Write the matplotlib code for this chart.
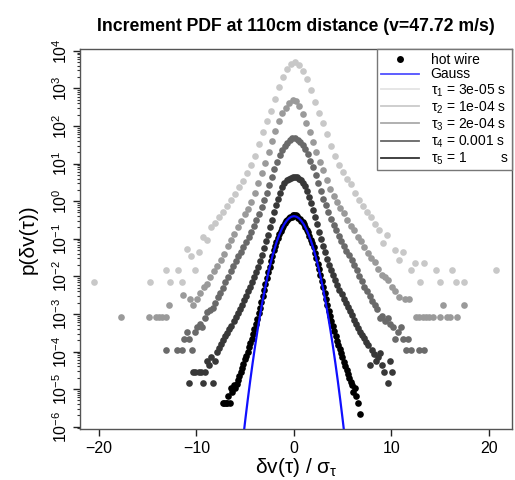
import numpy as np
import matplotlib
matplotlib.use("Agg")
import matplotlib.pyplot as plt
from matplotlib.lines import Line2D
from matplotlib.ticker import LogLocator, FixedLocator, LogFormatterSciNotation

plt.rcParams['font.family'] = ['Liberation Sans', 'DejaVu Sans']
plt.rcParams['mathtext.fontset'] = 'custom'
plt.rcParams['mathtext.rm'] = 'Liberation Sans'
plt.rcParams['mathtext.it'] = 'Liberation Sans'
plt.rcParams['mathtext.bf'] = 'Liberation Sans:bold'

nan = np.nan

title = "Increment PDF at 110cm distance (v=47.72 m/s)"
xlabel = r"δv(τ) / σ$_\tau$"
ylabel = "p(δv(τ))"
xticks = [-20, -10, 0, 10, 20]
yticks = [1e-6, 1e-5, 1e-4, 1e-3, 1e-2, 1e-1, 1e0, 1e1, 1e2, 1e3, 1e4]

legend_labels = ["hot wire", "Gauss",
                 r"τ$_1$ = 3e-05 s", r"τ$_2$ = 1e-04 s", r"τ$_3$ = 2e-04 s",
                 r"τ$_4$ = 0.001 s", r"τ$_5$ = 1         s"]
tau_colors = ["#c8c8c8", "#9a9a9a", "#6a6a6a", "#383838", "#000000"]
tau_legend_colors = ["#e4e4e4", "#cacaca", "#aaaaaa", "#666666", "#333333"]

# histogram bins: first bin centre and bin width for every lag
tau_x0 = [-20.5, -17.7, -13.1, -10.8, -7.3]
tau_dx = [0.412, 0.351, 0.264, 0.209, 0.141]

# log10 of the (vertically shifted) PDF values per bin; nan = empty bin
tau1_logp = [-2.14, nan, nan, nan, nan, nan, nan, nan, nan, nan, nan, nan, nan, nan,
             -2.14, nan, nan, nan, -1.83, -2.14, nan, -1.83, -2.14, -1.26, -1.46, -1.83,
             -1.35, -0.95, -1.03, -0.68, -0.57, -0.42, -0.29, -0.12, 0.02, 0.20, 0.37,
             0.54, 0.75, 0.97, 1.21, 1.53, 1.83, 2.12, 2.40, 2.73, 3.04, 3.31, 3.52,
             3.64, 3.71, 3.61, 3.47, 3.25, 2.95, 2.64, 2.34, 2.08, 1.79, 1.47, 1.20,
             0.95, 0.78, 0.60, 0.45, 0.22, 0.04, -0.12, -0.30, -0.41, -0.60, -0.77,
             -1.12, -0.90, nan, -1.30, -1.57, -1.35, nan, -1.83, -1.65, -2.14, -1.65,
             nan, nan, -1.83, -2.14, nan, nan, -1.83, -2.14, nan, -2.14, nan, nan, nan,
             nan, nan, nan, nan, -1.83]
tau2_logp = [-3.07, nan, nan, nan, nan, nan, nan, nan, -3.07, nan, -3.07, -3.07, -3.07,
             -3.07, -2.76, nan, nan, nan, -2.50, nan, -2.59, -2.76, -2.59, -2.45, -2.28,
             -2.20, -2.01, -1.87, -1.72, -1.57, -1.40, -1.20, -1.03, -0.88, -0.70, -0.52,
             -0.35, -0.20, -0.02, 0.22, 0.47, 0.74, 1.01, 1.30, 1.60, 1.87, 2.12, 2.34,
             2.49, 2.61, 2.69, 2.66, 2.52, 2.31, 2.08, 1.84, 1.57, 1.30, 1.03, 0.82,
             0.57, 0.32, 0.14, -0.02, -0.17, -0.32, -0.50, -0.65, -0.78, -0.95, -1.05,
             -1.22, -1.38, -1.50, -1.61, -1.80, -1.97, -2.01, -2.10, -2.28, -2.38, -2.54,
             nan, -2.59, -2.59, nan, -3.07, -3.07, -3.07, -3.07, -3.07, -3.07, nan,
             -3.07, -2.76, -3.07, -3.07, nan, -3.07, nan, -2.76]
tau3_logp = [-3.96, nan, nan, nan, -3.96, nan, -3.96, -3.66, -3.48, -3.66, -3.96, -3.48,
             -3.36, -3.26, -3.36, -3.11, -2.96, -2.90, -2.83, -2.70, -2.56, -2.43, -2.30,
             -2.16, -2.03, -1.85, -1.72, -1.59, -1.47, -1.35, -1.21, -1.08, -0.95, -0.82,
             -0.67, -0.51, -0.34, -0.15, 0.03, 0.23, 0.42, 0.64, 0.85, 1.04, 1.23, 1.36,
             1.48, 1.56, 1.62, 1.67, 1.68, 1.64, 1.58, 1.50, 1.40, 1.26, 1.08, 0.90,
             0.69, 0.47, 0.27, 0.07, -0.11, -0.29, -0.47, -0.63, -0.78, -0.92, -1.05,
             -1.18, -1.32, -1.44, -1.56, -1.69, -1.82, -1.99, -2.13, -2.27, -2.40, -2.52,
             -2.66, -2.76, -2.87, -3.11, -3.06, -3.18, -3.11, -3.26, -3.36, -3.66, -3.48,
             -3.36, -3.66, -3.96, -3.66, -3.96, nan, nan, -3.96, nan, -3.96]
tau4_logp = [-4.85, nan, -4.55, -4.55, nan, -4.55, -4.55, -4.85, -4.55, -4.25, -4.37,
             -4.15, -4.85, -4.25, -4.00, -3.90, -3.80, -3.70, -3.60, -3.50, -3.40, -3.31,
             -3.19, -3.08, -2.97, -2.86, -2.75, -2.64, -2.52, -2.39, -2.27, -2.14, -2.02,
             -1.88, -1.75, -1.59, -1.42, -1.25, -1.07, -0.89, -0.69, -0.50, -0.30, -0.11,
             0.07, 0.23, 0.37, 0.48, 0.55, 0.59, 0.62, 0.65, 0.65, 0.63, 0.60, 0.55,
             0.49, 0.41, 0.28, 0.12, -0.05, -0.24, -0.43, -0.62, -0.82, -1.01, -1.20,
             -1.36, -1.53, -1.69, -1.83, -1.97, -2.10, -2.22, -2.35, -2.48, -2.60, -2.71,
             -2.82, -2.93, -3.04, -3.15, -3.27, -3.37, -3.47, -3.56, -3.65, -3.74, -3.82,
             -4.37, -3.95, -4.07, -4.25, -4.15, -4.05, -4.37, -4.55, nan, -4.85, -4.25,
             -4.55]
tau5_logp = [-5.37, -5.37, -5.37, -5.37, -5.19, -5.37, -4.97, -5.07, -4.89, -4.97, -4.86,
             -4.76, -4.66, -4.55, -4.44, -4.33, -4.21, -4.11, -4.00, -3.89, -3.78, -3.66,
             -3.53, -3.40, -3.27, -3.13, -2.98, -2.84, -2.68, -2.52, -2.36, -2.20, -2.05,
             -1.89, -1.74, -1.59, -1.45, -1.30, -1.18, -1.08, -0.98, -0.87, -0.80, -0.72,
             -0.65, -0.59, -0.54, -0.50, -0.46, -0.43, -0.41, -0.38, -0.37, -0.38, -0.40,
             -0.44, -0.48, -0.52, -0.56, -0.61, -0.68, -0.76, -0.83, -0.92, -1.02, -1.12,
             -1.23, -1.37, -1.51, -1.66, -1.81, -1.96, -2.12, -2.27, -2.43, -2.59, -2.75,
             -2.91, -3.05, -3.19, -3.33, -3.46, -3.59, -3.71, -3.83, -3.94, -4.05, -4.15,
             -4.27, -4.38, -4.49, -4.60, -4.71, -4.82, -4.89, -5.07, -4.97, -5.19, -5.37,
             nan, -5.67]
tau_logp = [tau1_logp, tau2_logp, tau3_logp, tau4_logp, tau5_logp]

# Gaussian reference curve (log10 of the standard normal density)
gauss_x = [-5.5, -5.25, -5.0, -4.75, -4.5, -4.25, -4.0, -3.75, -3.5, -3.25, -3.0, -2.75,
           -2.5, -2.25, -2.0, -1.75, -1.5, -1.25, -1.0, -0.75, -0.5, -0.25, 0.0,
           0.25, 0.5, 0.75, 1.0, 1.25, 1.5, 1.75, 2.0, 2.25, 2.5, 2.75, 3.0, 3.25,
           3.5, 3.75, 4.0, 4.25, 4.5, 4.75, 5.0, 5.25, 5.5]
gauss_logp = [-6.966, -6.383, -5.827, -5.297, -4.795, -4.320, -3.873, -3.452, -3.059,
              -2.692, -2.353, -2.041, -1.756, -1.498, -1.268, -1.064, -0.888, -0.738,
              -0.616, -0.521, -0.453, -0.413, -0.399, -0.413, -0.453, -0.521, -0.616,
              -0.738, -0.888, -1.064, -1.268, -1.498, -1.756, -2.041, -2.353, -2.692,
              -3.059, -3.452, -3.873, -4.320, -4.795, -5.297, -5.827, -6.383, -6.966]

fig = plt.figure(figsize=(5.15, 4.8), dpi=100)
ax = fig.add_axes([0.1553, 0.1063, 0.8389, 0.7910])

for x0, dx, lp, col in zip(tau_x0, tau_dx, tau_logp, tau_colors):
    lp = np.array(lp, dtype=float)
    x = x0 + dx * np.arange(len(lp))
    ax.plot(x, 10 ** lp, ls='none', marker='o', ms=4.8, mec='none', mfc=col, zorder=2)

ax.plot(gauss_x, 10 ** np.array(gauss_logp), color='#1010ff', lw=1.6, zorder=3)

ax.set_yscale('log')
ax.set_xlim(-21.95, 22.36)
ax.set_ylim(10 ** -6.06, 10 ** 4.04)
ax.xaxis.set_major_locator(FixedLocator(xticks))
ax.yaxis.set_major_locator(FixedLocator(yticks))
ax.yaxis.set_major_formatter(LogFormatterSciNotation())
ax.yaxis.set_minor_locator(LogLocator(base=10, subs=np.arange(2, 10), numticks=300))
ax.tick_params(axis='both', which='major', direction='out', length=5, width=1,
               color='#222222', labelsize=11.5)
ax.tick_params(axis='y', which='minor', direction='out', length=2.5, width=0.8,
               color='#333333')
ax.tick_params(axis='y', which='major', pad=2)
for lab in ax.get_yticklabels():
    lab.set_rotation(90)
    lab.set_va('center')
for s in ax.spines.values():
    s.set_color('#555555')
    s.set_linewidth(1.0)

ax.set_xlabel(xlabel, fontsize=15, labelpad=0)
ax.set_ylabel(ylabel, fontsize=15, labelpad=10)
ax.set_title(title, fontsize=12.7, fontweight='bold', pad=13)

handles = [Line2D([], [], ls='none', marker='o', ms=5, mfc='black', mec='none'),
           Line2D([], [], color='#5050ff', lw=1.3)]
for col in tau_legend_colors:
    handles.append(Line2D([], [], color=col, lw=1.3))
leg = ax.legend(handles, legend_labels, loc='upper right', borderaxespad=0,
                fontsize=10, labelspacing=0.05, handlelength=2.8, handletextpad=0.8,
                borderpad=0.25, fancybox=False, framealpha=1, edgecolor='#777777')
leg.get_frame().set_linewidth(1.0)

fig.savefig("out.png", dpi=100)
